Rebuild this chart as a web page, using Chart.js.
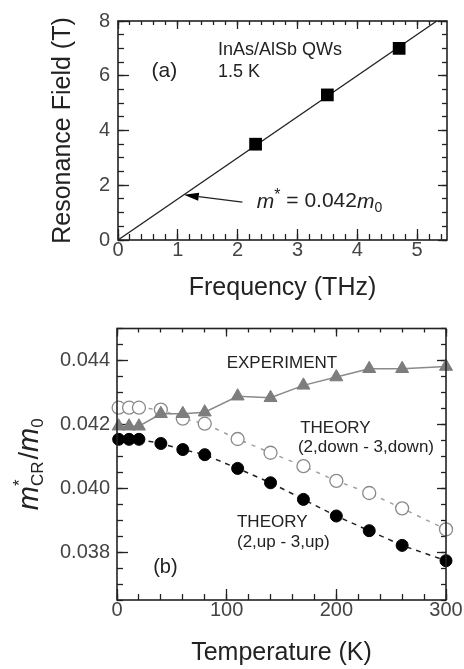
<!DOCTYPE html>
<html lang="en">
<head>
<meta charset="UTF-8">
<title>InAs/AlSb cyclotron resonance</title>
<script src="https://cdn.jsdelivr.net/npm/chart.js"></script>
<style>
  body { margin: 0; background: #fff; }
  .wrap { position: relative; width: 464px; height: 669px; }
  .panel { position: absolute; left: 0; width: 464px; }
  #panelA { top: 0; height: 320px; }
  #panelB { top: 320px; height: 349px; }
</style>
</head>
<body>
<div class="wrap">
  <div class="panel" id="panelA"><canvas id="chartA"></canvas></div>
  <div class="panel" id="panelB"><canvas id="chartB"></canvas></div>
</div>
<script>
// (a) resonance field vs frequency
const freqData = [2.3, 3.5, 4.7];
const fieldData = [3.5, 5.3, 7.0];
const fitFreq = [0, 5.33];
const fitField = [0, 8];
const aTicksX = [0, 1, 2, 3, 4, 5];
const aTicksY = [0, 2, 4, 6, 8];

// (b) effective mass vs temperature
const temps = [1.5, 11, 20, 40, 60, 80, 110, 140, 170, 200, 230, 260, 300];
const massExp = [0.04194, 0.04194, 0.04194, 0.04233, 0.04233, 0.04238, 0.04288, 0.04283, 0.04322, 0.04348, 0.04374, 0.04374, 0.04381];
const massDown = [0.04252, 0.04252, 0.04252, 0.04246, 0.04218, 0.04202, 0.04154, 0.04111, 0.04069, 0.04023, 0.03985, 0.03937, 0.03871];
const massUp = [0.04153, 0.04153, 0.04153, 0.0414, 0.04121, 0.04105, 0.04062, 0.04017, 0.03965, 0.03913, 0.03867, 0.03821, 0.03773];
const bTicksX = [0, 100, 200, 300];
const bTicksY = [0.038, 0.040, 0.042, 0.044];

const FONT = "'Liberation Sans', Arial, sans-serif";
const INK = '#222';
const tickFont = { family: FONT, size: 20 };
const titleFont = { family: FONT, size: 25 };

function pairs(xs, ys) {
  return xs.map((x, i) => ({ x: x, y: ys[i] }));
}

// minor tick positions between min and max
function steps(min, max, step) {
  const out = [];
  const n = Math.floor((max - min) / step + 1e-6);
  for (let i = 0; i <= n; i++) out.push(+(min + i * step).toFixed(6));
  return out;
}

const aMinorX = steps(0, 5.5, 0.2);
const aMinorY = steps(0, 8, 0.5);
const bMinorX = steps(0, 300, 20);
const bMinorY = steps(0.0365, 0.045, 0.0005);

// an axis that only draws inward tick marks (negative tick length)
function tickAxis(position, min, max, values, len, weight, size, extra) {
  const horiz = position === 'top' || position === 'bottom';
  return Object.assign({
    type: 'linear',
    position: position,
    min: min,
    max: max,
    weight: weight,
    display: true,
    grid: { display: true, drawOnChartArea: false, drawTicks: true, tickLength: -len, tickColor: INK, tickWidth: 1.3, color: INK },
    border: { display: false },
    ticks: { display: false },
    afterBuildTicks: s => { s.ticks = values.map(v => ({ value: v })); },
    afterFit: s => {
      if (horiz) s.height = size; else s.width = size;
      s.paddingTop = 0; s.paddingBottom = 0; s.paddingLeft = 0; s.paddingRight = 0;
    }
  }, extra || {});
}

// draws a run of text pieces (italic, sub/superscript) left to right
function drawRich(ctx, parts, x, y, dry) {
  let cx = x;
  for (const p of parts) {
    ctx.font = (p.italic ? 'italic ' : '') + p.size + 'px ' + FONT;
    if (!dry) ctx.fillText(p.t, cx, y + (p.dy || 0));
    if (p.advance !== false) cx += ctx.measureText(p.t).width + (p.gap || 0);
  }
  return cx - x;
}

// box around the plot and text labels placed in data coordinates
function decorPlugin(items, extra) {
  return {
    id: 'decor',
    afterDraw(chart) {
      const ctx = chart.ctx;
      const a = chart.chartArea;
      const sx = chart.scales.x, sy = chart.scales.y;
      ctx.save();
      ctx.strokeStyle = INK;
      ctx.lineWidth = 1.6;
      ctx.strokeRect(a.left, a.top, a.right - a.left, a.bottom - a.top);
      ctx.fillStyle = INK;
      ctx.textBaseline = 'middle';
      ctx.textAlign = 'left';
      for (const it of items) {
        drawRich(ctx, it.parts, sx.getPixelForValue(it.x), sy.getPixelForValue(it.y));
      }
      if (extra) extra(chart, ctx);
      ctx.restore();
    }
  };
}

function plain(t, size) {
  return [{ t: t, size: size }];
}

// ---------- panel (a) ----------
const notesA = [
  { x: 1.67, y: 6.93, parts: plain('InAs/AlSb QWs', 18) },
  { x: 1.67, y: 6.15, parts: plain('1.5 K', 18) },
  { x: 0.56, y: 6.15, parts: plain('(a)', 21) },
  { x: 2.32, y: 1.40, parts: [
    { t: 'm', size: 21, italic: true },
    { t: '*', size: 16, dy: -6 },
    { t: ' = 0.042', size: 21 },
    { t: 'm', size: 21, italic: true },
    { t: '0', size: 14, dy: 6 }
  ] }
];
const arrowTail = [2.08, 1.38];
const arrowHead = [1.1, 1.65];

function drawArrow(chart, ctx) {
  const sx = chart.scales.x, sy = chart.scales.y;
  const x0 = sx.getPixelForValue(arrowTail[0]), y0 = sy.getPixelForValue(arrowTail[1]);
  const x1 = sx.getPixelForValue(arrowHead[0]), y1 = sy.getPixelForValue(arrowHead[1]);
  const ang = Math.atan2(y1 - y0, x1 - x0);
  const len = 15, half = 4;
  const bx = x1 - len * Math.cos(ang), by = y1 - len * Math.sin(ang);
  ctx.strokeStyle = INK;
  ctx.lineWidth = 1.3;
  ctx.beginPath();
  ctx.moveTo(x0, y0);
  ctx.lineTo(bx, by);
  ctx.stroke();
  ctx.fillStyle = '#000';
  ctx.beginPath();
  ctx.moveTo(x1, y1);
  ctx.lineTo(bx - half * Math.sin(ang), by + half * Math.cos(ang));
  ctx.lineTo(bx + half * Math.sin(ang), by - half * Math.cos(ang));
  ctx.closePath();
  ctx.fill();
}

new Chart(document.getElementById('chartA'), {
  type: 'scatter',
  data: {
    datasets: [
      {
        data: pairs(freqData, fieldData),
        xAxisID: 'x',
        yAxisID: 'y',
        pointStyle: 'rect',
        pointRadius: 9,
        backgroundColor: '#000',
        borderWidth: 0,
        clip: false
      },
      {
        data: pairs(fitFreq, fitField),
        xAxisID: 'x',
        yAxisID: 'y',
        showLine: true,
        pointRadius: 0,
        borderColor: INK,
        borderWidth: 1.3
      }
    ]
  },
  options: {
    responsive: true,
    maintainAspectRatio: false,
    animation: false,
    layout: { padding: { top: 21, right: 17, left: 0, bottom: 0 } },
    plugins: { legend: { display: false }, tooltip: { enabled: false } },
    scales: {
      x: tickAxis('bottom', 0, 5.5, aTicksX, 11, 1, 80, {
        ticks: { display: true, font: tickFont, color: '#444', padding: 9, maxRotation: 0, autoSkip: false, callback: v => String(v) },
        title: { display: true, text: 'Frequency (THz)', font: titleFont, color: INK, padding: { top: 0, bottom: 17 } }
      }),
      xm: tickAxis('bottom', 0, 5.5, aMinorX, 6, 0, 0),
      xt: tickAxis('top', 0, 5.5, aTicksX, 8, 1, 0),
      xtm: tickAxis('top', 0, 5.5, aMinorX, 4, 0, 0),
      y: tickAxis('left', 0, 8, aTicksY, 11, 1, 118, {
        ticks: { display: true, font: tickFont, color: '#444', padding: 19, autoSkip: false, callback: v => String(v) },
        title: { display: true, text: 'Resonance Field (T)', font: titleFont, color: INK, padding: { top: 48, bottom: 0 } }
      }),
      ym: tickAxis('left', 0, 8, aMinorY, 6, 0, 0),
      yr: tickAxis('right', 0, 8, aTicksY, 9, 1, 0),
      yrm: tickAxis('right', 0, 8, aMinorY, 5, 0, 0)
    }
  },
  plugins: [decorPlugin(notesA, drawArrow)]
});

// ---------- panel (b) ----------
const notesB = [
  { x: 100, y: 0.04391, parts: plain('EXPERIMENT', 17) },
  { x: 167, y: 0.041875, parts: plain('THEORY', 17) },
  { x: 165, y: 0.04128, parts: plain('(2,down - 3,down)', 17) },
  { x: 109.4, y: 0.03894, parts: plain('THEORY', 17) },
  { x: 109.4, y: 0.03831, parts: plain('(2,up - 3,up)', 17) },
  { x: 33, y: 0.03753, parts: plain('(b)', 20) }
];
const massTitle = [
  { t: 'm', size: 29, italic: true },
  { t: '*', size: 17, dy: -13, advance: false },
  { t: 'CR', size: 17, dy: 5, gap: 2 },
  { t: '/', size: 27 },
  { t: 'm', size: 29, italic: true },
  { t: '0', size: 17, dy: 5 }
];

function drawMassTitle(chart, ctx) {
  const a = chart.chartArea;
  ctx.textBaseline = 'alphabetic';
  const w = drawRich(ctx, massTitle, 0, 0, true);
  ctx.translate(38, (a.top + a.bottom) / 2);
  ctx.rotate(-Math.PI / 2);
  drawRich(ctx, massTitle, -w / 2, 0);
}

new Chart(document.getElementById('chartB'), {
  type: 'scatter',
  data: {
    datasets: [
      {
        data: pairs(temps, massExp),
        xAxisID: 'x',
        yAxisID: 'y',
        showLine: true,
        borderColor: '#8a8a8a',
        borderWidth: 1.5,
        pointStyle: 'triangle',
        pointRadius: 7.5,
        pointBackgroundColor: '#7d7d7d',
        pointBorderColor: '#7d7d7d',
        pointBorderWidth: 1,
        clip: false
      },
      {
        data: pairs(temps, massUp),
        xAxisID: 'x',
        yAxisID: 'y',
        showLine: true,
        borderColor: '#222',
        borderWidth: 1.5,
        borderDash: [5, 5],
        pointStyle: 'circle',
        pointRadius: 6,
        pointBackgroundColor: '#000',
        pointBorderColor: '#000',
        pointBorderWidth: 1,
        clip: false
      },
      {
        data: pairs(temps, massDown),
        xAxisID: 'x',
        yAxisID: 'y',
        showLine: true,
        borderColor: '#a0a0a0',
        borderWidth: 1.5,
        borderDash: [4, 6],
        pointStyle: 'circle',
        pointRadius: 6.5,
        pointBackgroundColor: '#fff',
        pointBorderColor: '#8a8a8a',
        pointBorderWidth: 1.3,
        clip: false
      }
    ]
  },
  options: {
    responsive: true,
    maintainAspectRatio: false,
    animation: false,
    layout: { padding: { top: 8, right: 18, left: 0, bottom: 0 } },
    plugins: { legend: { display: false }, tooltip: { enabled: false } },
    scales: {
      x: tickAxis('bottom', 0, 300, bTicksX, 11, 1, 69, {
        ticks: { display: true, font: tickFont, color: '#444', padding: 9, maxRotation: 0, autoSkip: false, callback: v => String(v) },
        title: { display: true, text: 'Temperature (K)', font: titleFont, color: INK, padding: { top: 0, bottom: 1 } }
      }),
      xm: tickAxis('bottom', 0, 300, bMinorX, 6, 0, 0),
      xt: tickAxis('top', 0, 300, bTicksX, 8, 1, 0),
      xtm: tickAxis('top', 0, 300, bMinorX, 4, 0, 0),
      y: tickAxis('left', 0.0365, 0.045, bTicksY, 11, 1, 117, {
        ticks: { display: true, font: tickFont, color: '#444', padding: 18, autoSkip: false, callback: v => v.toFixed(3) }
      }),
      ym: tickAxis('left', 0.0365, 0.045, bMinorY, 6, 0, 0),
      yr: tickAxis('right', 0.0365, 0.045, bTicksY, 9, 1, 0),
      yrm: tickAxis('right', 0.0365, 0.045, bMinorY, 5, 0, 0)
    }
  },
  plugins: [decorPlugin(notesB, drawMassTitle)]
});
</script>
</body>
</html>
